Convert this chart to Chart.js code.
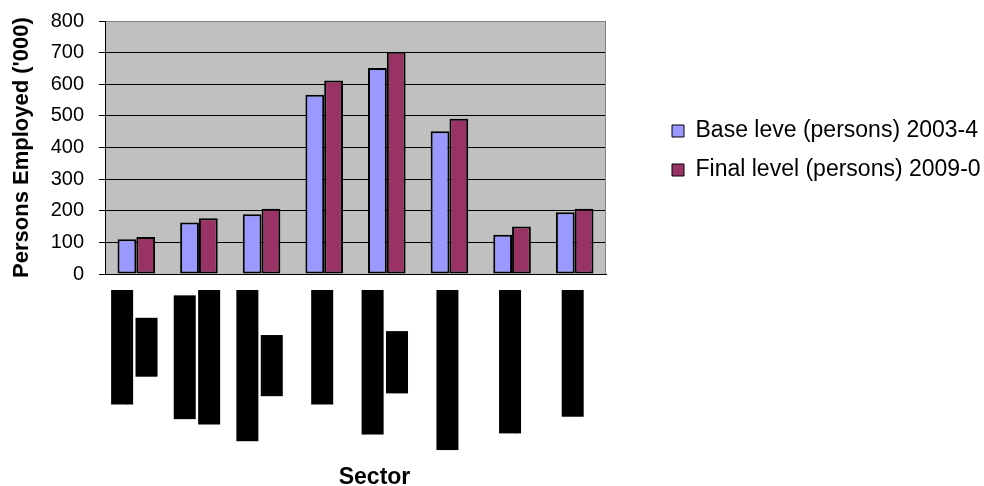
<!DOCTYPE html>
<html>
<head>
<meta charset="utf-8">
<script src="https://cdn.jsdelivr.net/npm/chart.js@4.4.1/dist/chart.umd.min.js"></script>
<style>
  html, body { margin: 0; padding: 0; background: #ffffff; }
  #wrap { width: 984px; height: 486px; }
</style>
</head>
<body>
<div id="wrap"><canvas id="chart" width="984" height="486"></canvas></div>
<script>
// Sector names (one entry per line of the rotated label)
const sectorLabels = [
  ["Agriculture &", "mining"],
  ["Transport and", "communication"],
  ["Construction and", "utilities"],
  ["Public sector"],
  ["Wholesale trade", "& retail"],
  ["Business services"],
  ["Accommodation"],
  ["Manufacturing"]
];
// Persons employed, thousands
const baseLevel  = [110, 163, 189, 567, 651, 451, 124, 195];
const finalLevel = [117, 176, 206, 612, 703, 491, 150, 206];
const seriesNames = ["Base leve (persons) 2003-4", "Final level (persons) 2009-0"];
const yTicks = [0, 100, 200, 300, 400, 500, 600, 700, 800];
const yTitle = "Persons Employed ('000)";
const xTitle = "Sector";

const FONT = '"Liberation Sans", Arial, Helvetica, sans-serif';
Chart.defaults.font.family = FONT;
Chart.defaults.color = '#000';

// Plot background, frame, rotated sector labels and the x-axis title
const sectorAxis = {
  id: 'sectorAxis',
  afterLayout(chart) {
    // leave a gap between the plot frame and the legend, let the legend run to the edge
    const lg = chart.legend;
    if (lg) {
      lg.left = chart.chartArea.right + 50;
      lg.right = chart.width;
      lg.top += 3;
      lg.bottom += 3;
    }
  },
  beforeDraw(chart) {
    const { ctx, chartArea: a } = chart;
    ctx.save();
    ctx.fillStyle = '#C0C0C0';
    ctx.fillRect(a.left, a.top, a.right - a.left, a.bottom - a.top);
    ctx.restore();
  },
  beforeDatasetsDraw(chart) {
    const { ctx, chartArea: a } = chart;
    ctx.save();
    ctx.strokeStyle = '#808080';
    ctx.lineWidth = 1;
    ctx.beginPath();
    ctx.moveTo(Math.round(a.right) - 0.5, a.top);
    ctx.lineTo(Math.round(a.right) - 0.5, a.bottom);
    ctx.stroke();
    ctx.restore();
  },
  afterDraw(chart) {
    const { ctx, chartArea: a } = chart;
    const xs = chart.scales.x;
    const pitch = 24.4, thick = 22;
    const top = a.bottom + 16;
    ctx.save();
    ctx.font = '20px ' + FONT;
    sectorLabels.forEach((lines, i) => {
      const x = xs.getPixelForValue(i) - 2;
      const widths = lines.map(t => ctx.measureText(t).width);
      const maxW = Math.max(...widths);
      lines.forEach((t, j) => {
        const cx = x + (j - (lines.length - 1) / 2) * pitch;
        ctx.save();
        ctx.translate(cx, top + maxW / 2);
        ctx.rotate(-Math.PI / 2);
        ctx.fillStyle = '#000';
        ctx.fillRect(-widths[j] / 2, -thick / 2, widths[j], thick);
        ctx.textAlign = 'center';
        ctx.textBaseline = 'middle';
        ctx.fillText(t, 0, 0);
        ctx.restore();
      });
    });
    ctx.font = 'bold 23px ' + FONT;
    ctx.fillStyle = '#000';
    ctx.textAlign = 'center';
    ctx.textBaseline = 'alphabetic';
    ctx.fillText(xTitle, (a.left + a.right) / 2 + 19, 484);
    ctx.restore();
  }
};

new Chart(document.getElementById('chart'), {
  type: 'bar',
  data: {
    labels: sectorLabels,
    datasets: [
      {
        label: seriesNames[0],
        data: baseLevel,
        backgroundColor: '#9999FF',
        borderColor: '#000000',
        borderWidth: 2,
        borderSkipped: false,
        categoryPercentage: 0.6,
        barPercentage: 1.0
      },
      {
        label: seriesNames[1],
        data: finalLevel,
        backgroundColor: '#993366',
        borderColor: '#000000',
        borderWidth: 2,
        borderSkipped: false,
        categoryPercentage: 0.6,
        barPercentage: 1.0
      }
    ]
  },
  options: {
    responsive: false,
    animation: false,
    devicePixelRatio: 1,
    layout: { padding: { left: 0, right: 176, top: 21, bottom: 0 } },
    plugins: {
      tooltip: { enabled: false },
      legend: {
        position: 'right',
        fullSize: false,
        align: 'center',
        labels: {
          boxWidth: 12,
          boxHeight: 12,
          padding: 16,
          color: '#000',
          font: { size: 23 },
          generateLabels: (chart) =>
            Chart.defaults.plugins.legend.labels.generateLabels(chart)
              .map(item => Object.assign(item, { lineWidth: 1 }))
        }
      }
    },
    scales: {
      x: {
        type: 'category',
        grid: { display: false, drawTicks: false },
        border: { display: true, color: '#000', width: 1 },
        ticks: { display: false },
        afterFit: (s) => { s.height = 212; }
      },
      y: {
        min: yTicks[0],
        max: yTicks[yTicks.length - 1],
        afterBuildTicks: (s) => { s.ticks = yTicks.map(v => ({ value: v })); },
        ticks: { padding: 15, font: { size: 20 }, color: '#000' },
        grid: {
          color: (c) => (c.tick && c.tick.value === yTicks[yTicks.length - 1]) ? '#808080' : '#000',
          lineWidth: 1,
          tickLength: 6,
          tickColor: '#000'
        },
        border: { display: true, color: '#000', width: 1 },
        title: {
          display: true,
          text: yTitle,
          font: { size: 22, weight: 'bold' },
          color: '#000',
          padding: { top: 9, bottom: 0 }
        },
        afterFit: (s) => { s.width = 105; s.paddingTop = 0; s.paddingBottom = 0; }
      }
    }
  },
  plugins: [sectorAxis]
});
</script>
</body>
</html>
